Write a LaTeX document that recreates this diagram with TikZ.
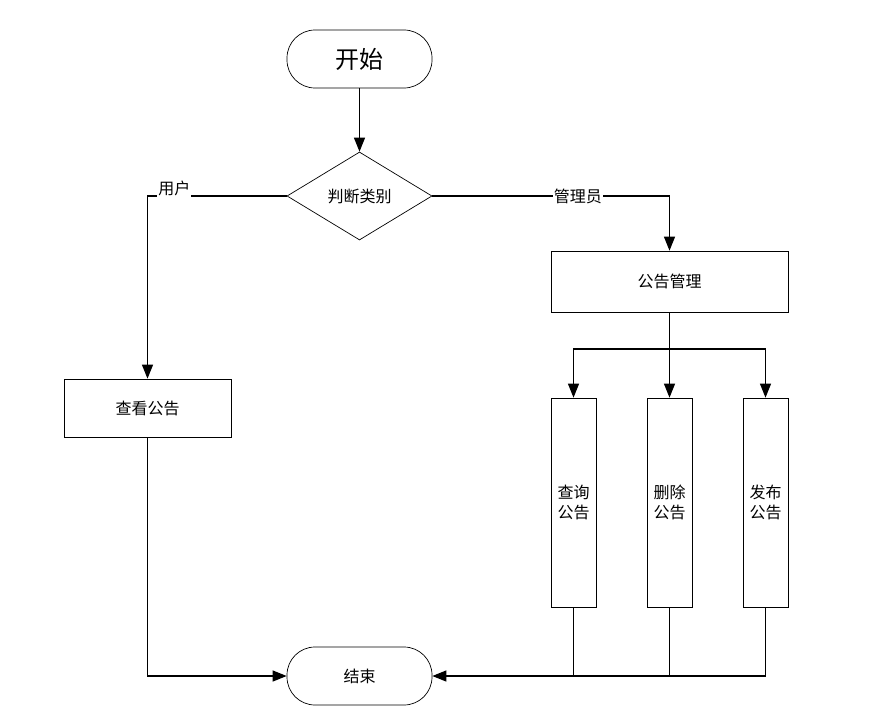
\documentclass[tikz,border=0pt]{standalone}
\usepackage{fontspec}
\setmainfont{Noto Sans CJK SC}
\usetikzlibrary{shapes.geometric,arrows.meta}

\tikzstyle{terminal}=[draw, line width=0.7pt, rounded corners=28pt, minimum width=145pt, minimum height=58pt, inner sep=0pt]
\tikzstyle{decision}=[draw, line width=0.7pt, diamond, aspect=1.65, minimum width=145pt, minimum height=88pt, inner sep=0pt]
\tikzstyle{process}=[draw, line width=0.7pt, minimum height=58pt, inner sep=0pt]
\tikzstyle{column}=[draw, line width=0.7pt, minimum width=45pt, minimum height=209pt, inner sep=0pt, align=center]
\tikzstyle{flow}=[line width=1.2pt, -{Triangle[length=14pt,width=11pt]}]
\tikzstyle{plain}=[line width=1.2pt]
\tikzstyle{tag}=[fill=white, inner xsep=1pt, inner ysep=2pt]

\begin{document}
\begin{tikzpicture}[x=1pt, y=-1pt, font=\fontsize{16}{20}\selectfont]
	\useasboundingbox (0,0) rectangle (888,717);
	%The start and stop
	\node[terminal, font=\fontsize{24}{28}\selectfont] (start) at (359.5,59) {开始};
	\node[terminal] (stop) at (359.5,676) {结束};
	%The decision
	\node[decision] (judge) at (359.5,196) {判断类别};
	%The boxes
	\node[process, minimum width=167pt] (view) at (147.5,408) {查看公告};
	\node[process, minimum width=237pt, minimum height=61pt] (manage) at (669.5,281.5) {公告管理};
	\foreach \pos/\name/\text in {{(573.5,502.5)/query/查询\\公告},
								  {(669.5,502.5)/delete/删除\\公告},
								  {(765.5,502.5)/publish/发布\\公告}}
	\node[column] (\name) at \pos {\text};
	%Adding the connectors
	\draw[flow] (start) -- (judge);
	\draw[flow] (judge.west) -| node[tag, pos=0.403, yshift=8pt] {用户} (view.north);
	\draw[flow] (judge.east) -| node[tag, pos=0.307] {管理员} (manage.north);
	\coordinate (branch) at (669.5,349);
	\draw[plain] (manage.south) -- (branch);
	\foreach \name in {query,delete,publish}
	\draw[flow] (branch) -| (\name.north);
	%Back to the stop
	\draw[flow] (view.south) |- (stop.west);
	\draw[flow] (publish.south) |- (stop.east);
	\foreach \name in {query,delete}
	\draw[plain] (\name.south) -- (\name.south |- stop.east);
\end{tikzpicture}
\end{document}
